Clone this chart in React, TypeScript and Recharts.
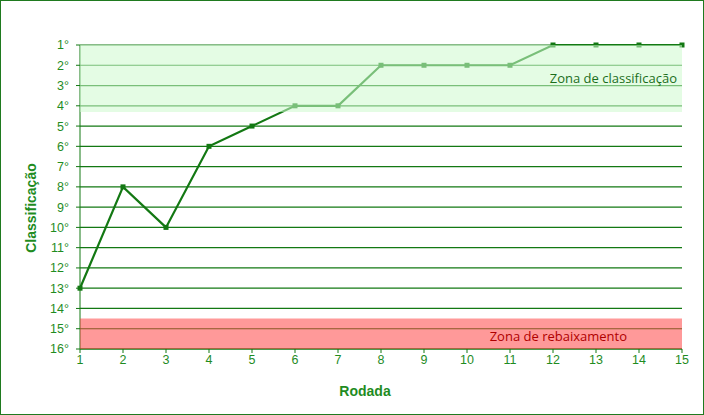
import { LineChart, Line, XAxis, YAxis, CartesianGrid, ReferenceArea, Label } from "recharts";

const rounds = [1, 2, 3, 4, 5, 6, 7, 8, 9, 10, 11, 12, 13, 14, 15];
const positions = [13, 8, 10, 6, 5, 4, 4, 2, 2, 2, 2, 1, 1, 1, 1];
const rankTicks = [1, 2, 3, 4, 5, 6, 7, 8, 9, 10, 11, 12, 13, 14, 15, 16];

// zones, in ranks
const promoZone = [1, 4.3];
const relegationZone = [14.5, 16];

const data = rounds.map((r, i) => ({ round: r, pos: positions[i] }));

const GREEN = "#137813";
const TEXT = "#1f8c1f";

const SquareDot = (props: any) => {
  const { cx, cy, index } = props;
  if (cx == null || cy == null) return null;
  return <rect key={index} x={cx - 2.5} y={cy - 2.5} width={5} height={5} fill={GREEN} />;
};

export default function App() {
  return (
    <div
      style={{
        position: "fixed",
        left: 0,
        top: 0,
        width: 704,
        height: 415,
        boxSizing: "border-box",
        border: "1.5px solid #1f7a1f",
        background: "#fff",
      }}
    >
      <LineChart
        width={702}
        height={413}
        data={data}
        margin={{ top: 45, right: 20, bottom: 9, left: 9 }}
        style={{ position: "absolute", left: -1, top: -1 }}
      >
        <CartesianGrid vertical={false} stroke={GREEN} strokeWidth={1.2} />
        <XAxis
          dataKey="round"
          type="number"
          domain={[1, 15]}
          ticks={rounds}
          height={55}
          tickSize={4}
          stroke={GREEN}
          tick={{ fill: TEXT, fontSize: 12.5, fontFamily: "Liberation Sans, Arial" }}
        >
          <Label
            content={({ viewBox }: any) => (
              <text
                x={viewBox.x + viewBox.width / 2 - 16}
                y={viewBox.y + 42}
                textAnchor="middle"
                dominantBaseline="central"
                fill={TEXT}
                fontSize={14}
                fontWeight="bold"
                fontFamily="Liberation Sans, Arial"
              >
                Rodada
              </text>
            )}
          />
        </XAxis>
        <YAxis
          type="number"
          reversed
          domain={[1, 16]}
          ticks={rankTicks}
          interval={0}
          width={71}
          tickSize={4}
          tickMargin={7}
          stroke={GREEN}
          tickFormatter={(v: number) => `${v}°`}
          tick={{ fill: TEXT, fontSize: 12.5, fontFamily: "Liberation Sans, Arial" }}
        >
          <Label
            content={({ viewBox }: any) => {
              const x = viewBox.x + 22;
              const y = viewBox.y + viewBox.height / 2 + 11;
              return (
                <text
                  x={x}
                  y={y}
                  transform={`rotate(-90, ${x}, ${y})`}
                  textAnchor="middle"
                  dominantBaseline="central"
                  fill={TEXT}
                  fontSize={14}
                  fontWeight="bold"
                  fontFamily="Liberation Sans, Arial"
                >
                  Classificação
                </text>
              );
            }}
          />
        </YAxis>
        <Line
          dataKey="pos"
          stroke={GREEN}
          strokeWidth={2.2}
          dot={<SquareDot />}
          activeDot={false}
          isAnimationActive={false}
        />
        <ReferenceArea
          x1={1}
          x2={15}
          y1={promoZone[0]}
          y2={promoZone[1]}
          fill="rgb(205,250,205)"
          fillOpacity={0.55}
          stroke="none"
          zIndex={700}
          label={{
            value: "Zona de classificação",
            position: "insideRight",
            offset: 5,
            fill: "#1b6e1b",
            fontSize: 13,
            fontFamily: "Open Sans",
          }}
        />
        <ReferenceArea
          x1={1}
          x2={15}
          y1={relegationZone[0]}
          y2={relegationZone[1]}
          fill="rgb(255,51,51)"
          fillOpacity={0.5}
          stroke="none"
          zIndex={700}
          label={{
            value: "Zona de rebaixamento",
            position: "insideRight",
            offset: 55,
            dy: 3,
            fill: "#b00000",
            fontSize: 13,
            fontFamily: "Open Sans",
          }}
        />
      </LineChart>
    </div>
  );
}
